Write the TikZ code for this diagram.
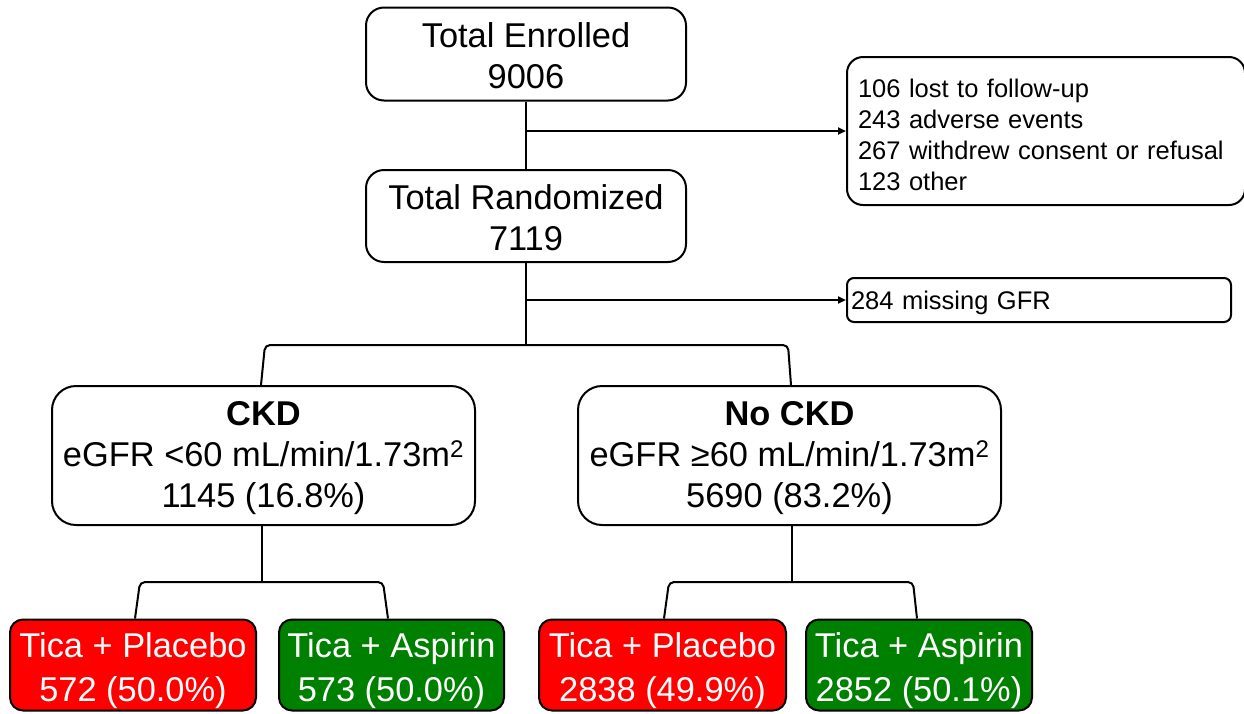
\documentclass[tikz,border=0pt]{standalone}
\usepackage{fontspec}
\setmainfont{Liberation Sans}
\usetikzlibrary{arrows.meta,calc}
\definecolor{tred}{RGB}{255,0,0}
\definecolor{tgreen}{RGB}{0,128,0}
\begin{document}
\begin{tikzpicture}[x=1pt,y=-1pt,
  box/.style={draw,line width=2pt,rounded corners=18pt,inner sep=0pt},
  lbl/.style={inner sep=0pt,align=center,font=\fontsize{34.4}{41}\selectfont},
  slbl/.style={inner sep=0pt,align=left,font=\fontsize{25.5}{31}\selectfont},
  armlbl/.style={lbl,text=white,font=\fontsize{34.4}{44}\selectfont},
  arm/.style={box,rounded corners=13pt},
  conn/.style={line width=2pt},
  arr/.style={line width=2pt,-{Triangle[length=8pt,width=7pt]}}]
\useasboundingbox (0,0) rectangle (1244,713);

\node[box,minimum width=320,minimum height=93,
  label={[lbl,yshift=-2pt]center:Total Enrolled\\9006}] (enr) at (526,54) {};
\node[box,minimum width=320,minimum height=92,
  label={[lbl,yshift=-1.5pt]center:Total Randomized\\7119}] (rand) at (526,216) {};
\node[box,rounded corners=16pt,minimum width=398,minimum height=148,anchor=west,
  label={[slbl,text width=376,yshift=-4pt]center:106 lost to follow-up\\243 adverse events\\267 withdrew consent or refusal\\123 other}] (excl) at (846,131) {};
\node[box,rounded corners=7pt,minimum width=384,minimum height=44,anchor=west,
  label={[slbl,text width=376,yshift=-2.5pt]center:284 missing GFR}] (miss) at (846,300) {};
\node[box,rounded corners=24pt,minimum width=423,minimum height=139,
  label={[lbl,yshift=-3pt]center:\textbf{CKD}\\eGFR <60 mL/min/1.73m\textsuperscript{2}\\1145 (16.8\%)}] (ckd) at (263.5,455.5) {};
\node[box,rounded corners=24pt,minimum width=423,minimum height=139,
  label={[lbl,yshift=-3pt]center:\textbf{No CKD}\\eGFR ≥60 mL/min/1.73m\textsuperscript{2}\\5690 (83.2\%)}] (nockd) at (789.5,455.5) {};
\node[arm,fill=tred,minimum width=246,minimum height=91,
  label={[armlbl,yshift=-6pt]center:Tica + Placebo\\572 (50.0\%)}] (p1) at (133,665) {};
\node[arm,fill=tgreen,minimum width=225,minimum height=91,
  label={[armlbl,yshift=-6pt]center:Tica + Aspirin\\573 (50.0\%)}] (a1) at (391.5,665) {};
\node[arm,fill=tred,minimum width=247,minimum height=91,
  label={[armlbl,yshift=-6pt]center:Tica + Placebo\\2838 (49.9\%)}] (p2) at (662.5,665) {};
\node[arm,fill=tgreen,minimum width=226,minimum height=91,
  label={[armlbl,yshift=-6pt]center:Tica + Aspirin\\2852 (50.1\%)}] (a2) at (919,665) {};

% trunk
\draw[conn] (enr.south) -- (rand.north);
\draw[arr] (enr.south |- excl.west) -- (excl.west);
\coordinate (br) at (526,345);
\draw[conn] (rand.south) -- (br);
\draw[arr] (rand.south |- miss.west) -- (miss.west);
\draw[conn,rounded corners=5pt] ($(ckd.north)+(-2.5,0)$) -- ($(ckd.north |- br)+(1.5,0)$)
  -- ($(nockd.north |- br)+(-1.5,0)$) -- ($(nockd.north)+(1.5,0)$);

% CKD split
\coordinate (b1) at (262,582);
\draw[conn] (b1 |- ckd.south) -- (b1);
\draw[conn,rounded corners=5pt] ($(p1.north)+(2,0)$) -- ($(p1.north |- b1)+(7,0)$)
  -- ($(a1.north |- b1)+(-8.5,0)$) -- ($(a1.north)+(-3.5,0)$);

% No CKD split
\coordinate (b2) at (792,582);
\draw[conn] (b2 |- nockd.south) -- (b2);
\draw[conn,rounded corners=5pt] ($(p2.north)+(1.5,0)$) -- ($(p2.north |- b2)+(6.5,0)$)
  -- ($(a2.north |- b2)+(-6,0)$) -- ($(a2.north)+(-2,0)$);
\end{tikzpicture}
\end{document}
